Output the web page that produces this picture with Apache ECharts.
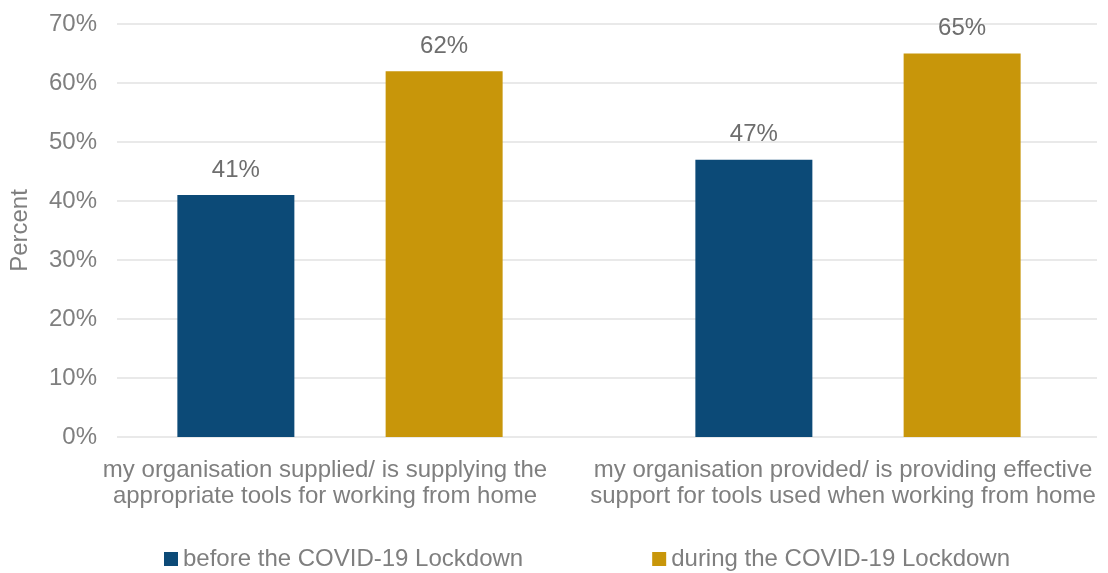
<!DOCTYPE html>
<html>
<head>
<meta charset="utf-8">
<title>Tools for working from home</title>
<script src="https://cdn.jsdelivr.net/npm/echarts@6/dist/echarts.min.js"></script>
<style>
  html, body { margin: 0; padding: 0; background: #ffffff; }
  #chart { width: 1108px; height: 573px; }
</style>
</head>
<body>
<div id="chart"></div>
<script>
// Survey statements (x categories)
const categories = [
  'my organisation supplied/ is supplying the\nappropriate tools for working from home',
  'my organisation provided/ is providing effective\nsupport for tools used when working from home'
];
// Share of respondents agreeing, in percent
const beforeLockdown = [41, 47];
const duringLockdown = [62, 65];
const seriesNames = ['before the COVID-19 Lockdown', 'during the COVID-19 Lockdown'];
// Value axis range and step (percent)
const yMin = 0;
const yMax = 70;
const yStep = 10;

const FONT = '"Liberation Sans", Arial, sans-serif';
const TEXT_GREY = '#7f7f7f';
const GRID_GREY = '#e2e2e2';
const FS = 24;

const chart = echarts.init(document.getElementById('chart'), null, { renderer: 'canvas' });

const valueLabel = {
  show: true,
  position: 'top',
  distance: 13,
  fontFamily: FONT,
  fontSize: FS,
  color: '#6e6e6e',
  formatter: '{c}%'
};

chart.setOption({
  backgroundColor: '#ffffff',
  animation: false,
  textStyle: { fontFamily: FONT },
  grid: [
    // gridlines and value labels
    { left: 117, right: 11, top: 24, bottom: 136, outerBoundsMode: 'none' },
    // bars and category labels (wider band than the gridlines)
    { left: 81, width: 1036, top: 24, bottom: 136, outerBoundsMode: 'none' }
  ],
  legend: {
    data: seriesNames,
    left: 159,
    top: 542,
    icon: 'rect',
    itemWidth: 14,
    itemHeight: 14,
    itemGap: 129,
    textStyle: { fontFamily: FONT, fontSize: FS, color: TEXT_GREY }
  },
  xAxis: [
    {
      gridIndex: 0,
      type: 'category',
      data: categories,
      show: false
    },
    {
      gridIndex: 1,
      type: 'category',
      data: categories,
      axisLine: { show: false },
      axisTick: { show: false },
      axisLabel: {
        interval: 0,
        margin: 20,
        fontFamily: FONT,
        fontSize: FS,
        lineHeight: 26,
        color: TEXT_GREY,
        padding: [0, 30, 0, 0]
      }
    }
  ],
  yAxis: [
    {
      gridIndex: 0,
      type: 'value',
      min: yMin,
      max: yMax,
      interval: yStep,
      name: 'Percent',
      nameLocation: 'middle',
      nameGap: 85,
      nameRotate: 90,
      nameTextStyle: { fontFamily: FONT, fontSize: FS, color: TEXT_GREY },
      axisLine: { show: false },
      axisTick: { show: false },
      axisLabel: {
        margin: 20,
        fontFamily: FONT,
        fontSize: FS,
        color: TEXT_GREY,
        formatter: '{value}%'
      },
      splitLine: { lineStyle: { color: GRID_GREY, width: 1.5 } }
    },
    {
      gridIndex: 1,
      type: 'value',
      min: yMin,
      max: yMax,
      interval: yStep,
      show: false,
      splitLine: { show: false }
    }
  ],
  series: [
    {
      name: seriesNames[0],
      type: 'bar',
      xAxisIndex: 1,
      yAxisIndex: 1,
      data: beforeLockdown,
      barWidth: 117,
      barGap: '78%',
      itemStyle: { color: '#0c4a77' },
      label: valueLabel
    },
    {
      name: seriesNames[1],
      type: 'bar',
      xAxisIndex: 1,
      yAxisIndex: 1,
      data: duringLockdown,
      barWidth: 117,
      barGap: '78%',
      itemStyle: { color: '#c8960a' },
      label: valueLabel
    }
  ]
});
</script>
</body>
</html>
